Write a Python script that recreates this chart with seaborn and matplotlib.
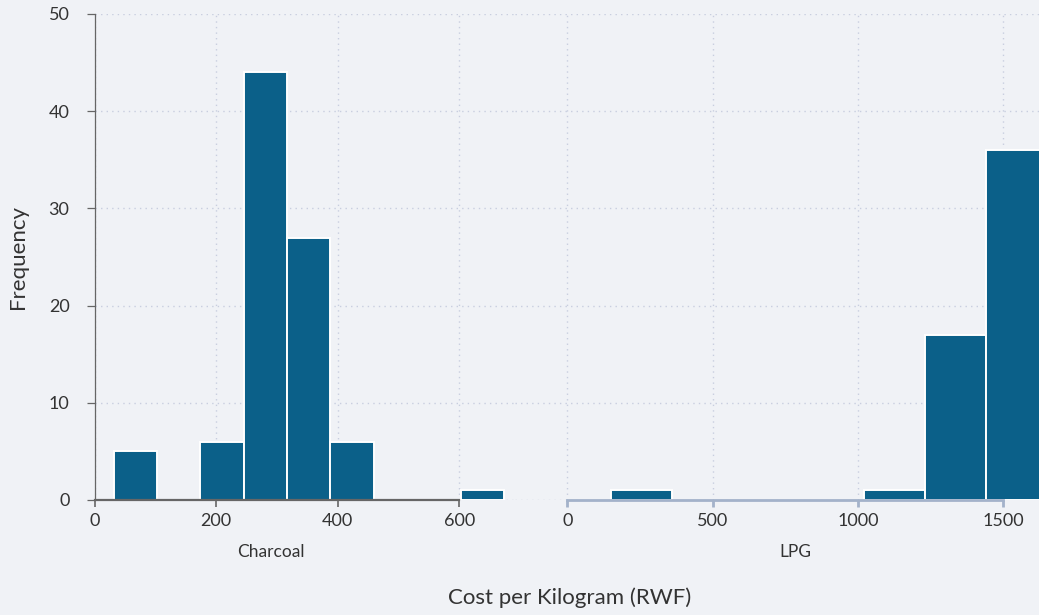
import numpy as np
import pandas as pd
import matplotlib
matplotlib.use("Agg")
import matplotlib.pyplot as plt
import seaborn as sns

# ---- data ----
charcoal_edges = [32, 103, 174, 246, 317, 388, 459, 531, 602, 673]
charcoal_counts = [5, 0, 6, 44, 27, 6, 0, 0, 1]
lpg_edges = [151, 361, 1022, 1232, 1442, 1652]
lpg_counts = [1, 0, 1, 17, 36]
panel_names = ["Charcoal", "LPG"]
charcoal_ticks = [0, 200, 400, 600]
lpg_ticks = [0, 500, 1000, 1500]
y_ticks = [0, 10, 20, 30, 40, 50]

BG = "#F0F2F6"
BAR = "#0B6089"
GRID = "#C8CEDF"
TXT = "#333333"

sns.set_theme(style="white")
plt.rcParams["font.family"] = ["Lato", "DejaVu Sans"]

W, H = 1039, 615
fig = plt.figure(figsize=(W / 100, H / 100), dpi=100, facecolor=BG)

top_px, bot_px = 14, 500
left_px, mid_px, right_px = 94.5, 515, 1039
ax1 = fig.add_axes([left_px / W, 1 - bot_px / H, (mid_px - left_px) / W, (bot_px - top_px) / H])
ax2 = fig.add_axes([mid_px / W, 1 - bot_px / H, (right_px - mid_px) / W, (bot_px - top_px) / H], sharey=ax1)


def centers(edges):
    e = np.asarray(edges, dtype=float)
    return (e[:-1] + e[1:]) / 2


for ax, edges, counts in [(ax1, charcoal_edges, charcoal_counts), (ax2, lpg_edges, lpg_counts)]:
    ax.set_facecolor(BG)
    df = pd.DataFrame({"x": centers(edges), "w": counts})
    sns.histplot(data=df, x="x", weights="w", bins=edges, ax=ax, color=BAR, alpha=1,
                 edgecolor="white", linewidth=1.4, zorder=3)
    for p in list(ax.patches):
        if p.get_height() == 0:
            p.remove()
    ax.grid(True, linestyle=(0, (1, 3)), color=GRID, linewidth=1.0, zorder=0)
    ax.set_axisbelow(True)

ax1.set_ylim(0, 50)
ax1.set_yticks(y_ticks)
ax1.set_xlim(0, (mid_px - left_px) / 0.608)
ax1.set_xticks(charcoal_ticks)
ax2.set_xlim((mid_px - 567.2) / 0.2907, (right_px - 567.2) / 0.2907)
ax2.set_xticks(lpg_ticks)

# spines
for s in ["top", "right"]:
    ax1.spines[s].set_visible(False)
    ax2.spines[s].set_visible(False)
ax2.spines["left"].set_visible(False)
ax1.spines["left"].set_color("#666666")
ax1.spines["bottom"].set_color("#666666")
ax1.spines["left"].set_linewidth(0.9)
ax1.spines["bottom"].set_linewidth(1.6)
ax1.spines["left"].set_bounds(0, 50)
ax1.spines["bottom"].set_bounds(0, 600)
ax2.spines["bottom"].set_color("#A3B2CA")
ax2.spines["bottom"].set_linewidth(2.0)
ax2.spines["bottom"].set_bounds(0, 1500)
for sp in ax1.spines.values():
    sp.set_zorder(4)
for sp in ax2.spines.values():
    sp.set_zorder(4)

ax1.tick_params(axis="y", direction="out", length=6, width=0.9, color="#666666",
                pad=12, labelsize=13, labelcolor=TXT, left=True)
ax1.tick_params(axis="x", direction="out", length=5, width=1.2, color="#666666",
                pad=4, labelsize=13, labelcolor=TXT, bottom=True)
ax2.tick_params(axis="y", left=False, labelleft=False)
ax2.tick_params(axis="x", direction="out", length=5, width=2.0, color="#A3B2CA",
                pad=4, labelsize=13, labelcolor=TXT, bottom=True)

ax1.set_ylabel("")
ax2.set_ylabel("")
ax1.set_xlabel(panel_names[0], fontsize=12.5, color=TXT, va="center")
ax2.set_xlabel(panel_names[1], fontsize=12.5, color=TXT, va="center")
ax1.xaxis.set_label_coords((271 - left_px) / (mid_px - left_px), (bot_px - 552) / (bot_px - top_px))
ax2.xaxis.set_label_coords((795 - mid_px) / (right_px - mid_px), (bot_px - 552) / (bot_px - top_px))

fig.text(18 / W, 1 - 257 / H, "Frequency", rotation=90, ha="center", va="center",
         fontsize=16, color=TXT)
fig.text(570 / W, 1 - 598 / H, "Cost per Kilogram (RWF)", ha="center", va="center",
         fontsize=16, color=TXT)

fig.savefig("out.png", dpi=100, facecolor=BG)
